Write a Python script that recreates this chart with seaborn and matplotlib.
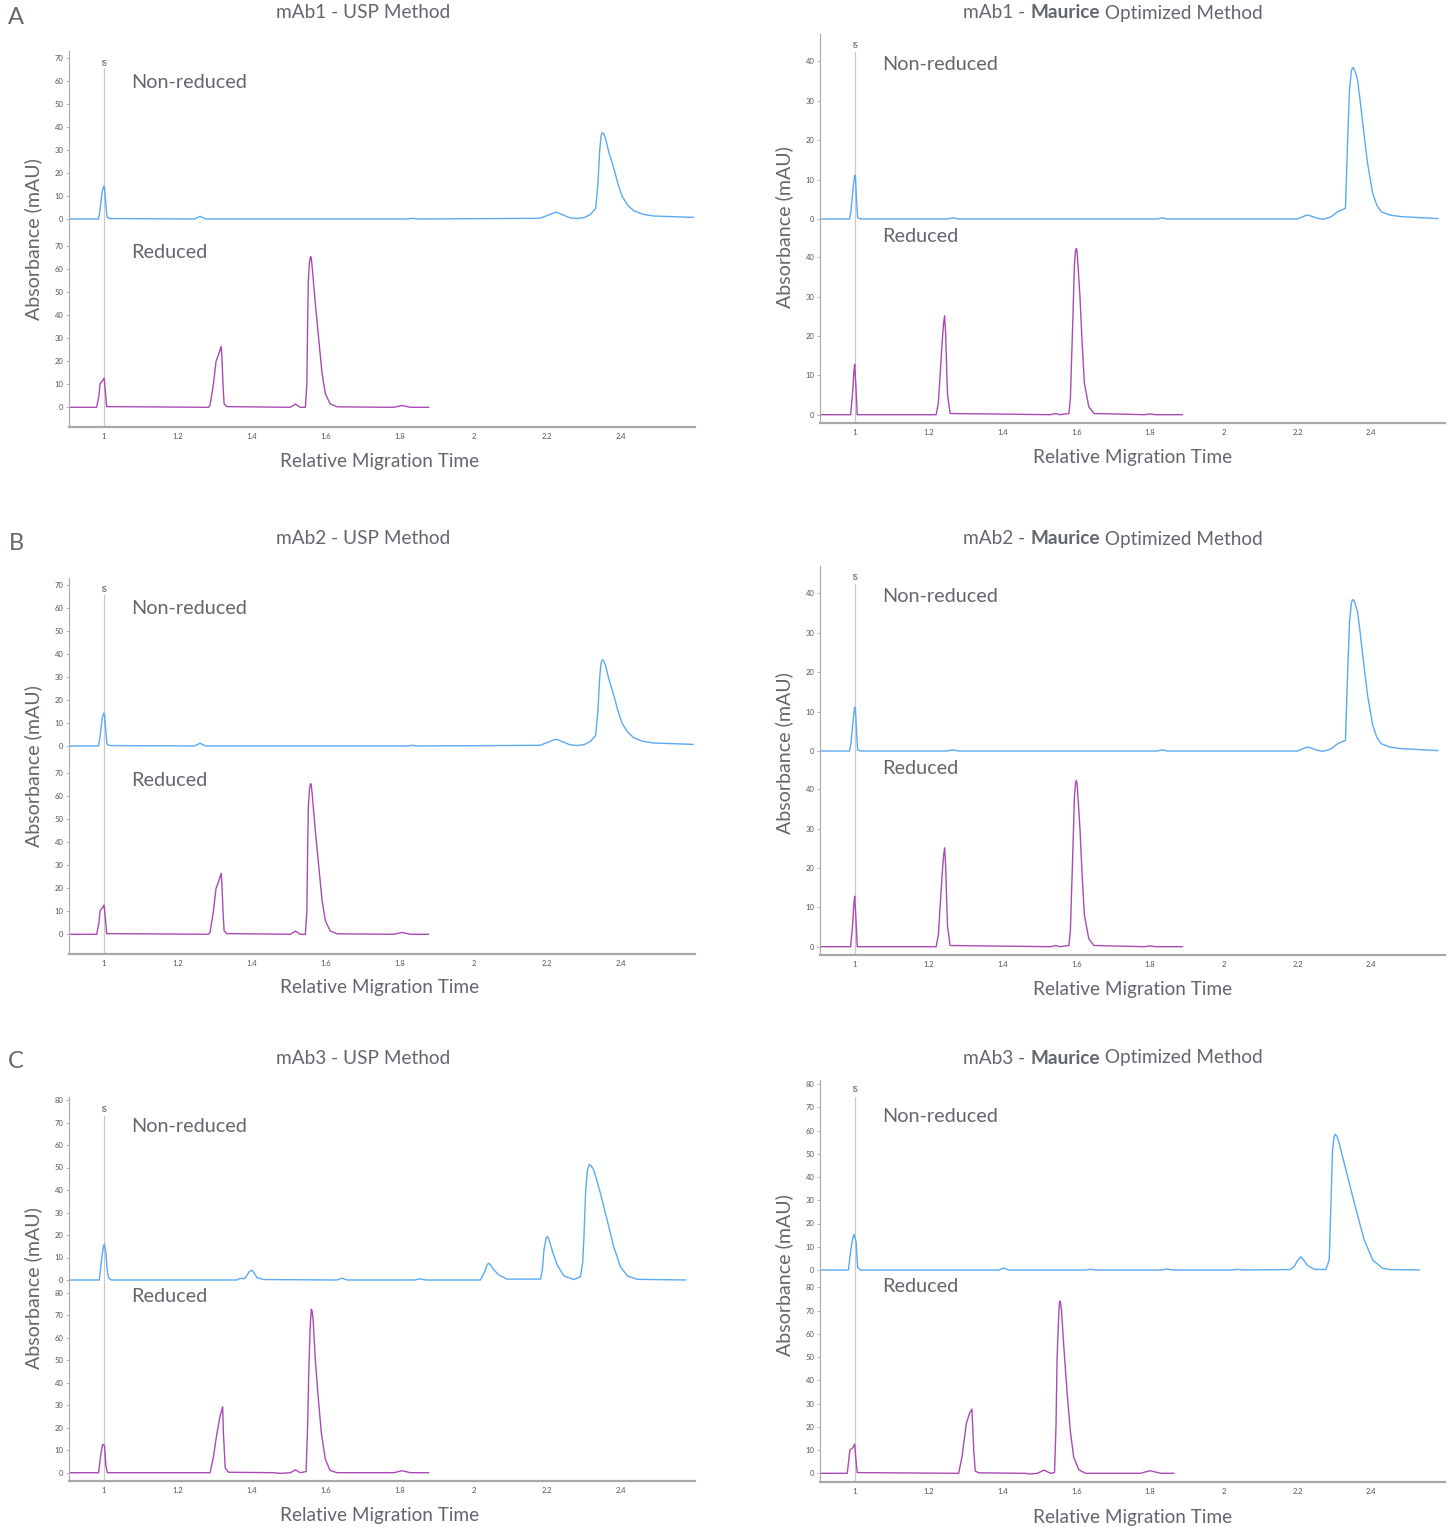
import numpy as np
import pandas as pd
import seaborn as sns
import matplotlib.pyplot as plt

# ---- trace data (relative migration time, mAU) ----
MAB1_USP_NR_X = [0.905, 0.985, 0.989, 0.995, 0.999, 1.001, 1.004, 1.008, 1.015, 1.245, 1.26, 1.275, 1.82, 1.835,
                 1.85, 2.18, 2.205, 2.218, 2.224, 2.232, 2.245, 2.262, 2.281, 2.300, 2.317, 2.331, 2.337, 2.342,
                 2.346, 2.349, 2.352, 2.357, 2.366, 2.379, 2.391, 2.403, 2.418, 2.434, 2.46, 2.488, 2.596]
MAB1_USP_NR_Y = [0, 0, 4, 12, 14.3, 14.0, 8, 0.8, 0.2, 0, 1.2, 0, 0, 0.3,
                 0, 0.3, 1.8, 2.7, 2.9, 2.5, 1.6, 0.5, 0.2, 0.6, 2.0, 4.6, 15, 30,
                 36.5, 37.5, 37.2, 35.5, 29.5, 22.7, 15.5, 9.7, 6.0, 3.6, 2.0, 1.3, 0.7]
MAB1_USP_R_X = [0.905, 0.980, 0.986, 0.989, 0.994, 1.000, 1.004, 1.007, 1.283, 1.287, 1.296, 1.303, 1.310, 1.317,
                1.319, 1.322, 1.325, 1.332, 1.504, 1.518, 1.531, 1.545, 1.549, 1.551, 1.553, 1.556, 1.559, 1.561,
                1.564, 1.572, 1.581, 1.590, 1.599, 1.612, 1.631, 1.784, 1.807, 1.829, 1.879]
MAB1_USP_R_Y = [0, 0, 5, 10.2, 11.2, 12.7, 6, 0.3, 0, 1, 10, 19.9, 23, 26.5,
                22, 10, 1.5, 0.3, 0, 1.4, 0, 0, 10, 35, 55, 63, 65.5, 65.0,
                60, 45, 30, 15, 6, 1.5, 0.2, 0, 0.8, 0, 0]
MAB1_MAU_NR_X = [0.905, 0.985, 0.989, 0.995, 0.999, 1.001, 1.004, 1.007, 1.015, 1.25, 1.265, 1.28, 1.82, 1.833,
                 1.846, 2.20, 2.220, 2.227, 2.235, 2.25, 2.268, 2.29, 2.309, 2.330, 2.336, 2.341, 2.346, 2.349,
                 2.352, 2.356, 2.363, 2.370, 2.377, 2.39, 2.404, 2.415, 2.427, 2.45, 2.481, 2.581]
MAB1_MAU_NR_Y = [0, 0, 2, 8, 11.1, 10.8, 5, 0.3, 0, 0, 0.3, 0, 0, 0.3,
                 0, 0, 0.8, 1.0, 0.8, 0.3, -0.1, 0.5, 1.85, 2.7, 20, 32.7, 37.5, 38.4,
                 38.3, 37.5, 35.2, 30, 24.2, 14.1, 6.5, 3.5, 1.85, 1.0, 0.6, 0.1]
MAB1_MAU_R_X = [0.905, 0.988, 0.993, 0.997, 0.999, 1.002, 1.006, 1.220, 1.226, 1.231, 1.236, 1.240, 1.243, 1.246,
                1.249, 1.251, 1.258, 1.530, 1.543, 1.556, 1.580, 1.584, 1.586, 1.591, 1.595, 1.598, 1.600, 1.602,
                1.604, 1.610, 1.616, 1.622, 1.634, 1.648, 1.785, 1.80, 1.815, 1.888]
MAB1_MAU_R_Y = [0, 0, 5, 11, 12.8, 8, 0, 0, 3, 10.5, 18, 23, 25.1, 20,
                10, 5, 0.3, 0, 0.3, 0, 0.3, 4, 10.1, 25, 38, 41.5, 42.2, 41.5,
                39, 30, 18, 8, 2, 0.3, 0, 0.2, 0, 0]

# mAb2 traces are indistinguishable from mAb1 in the figure
MAB2_USP_NR_X, MAB2_USP_NR_Y = list(MAB1_USP_NR_X), list(MAB1_USP_NR_Y)
MAB2_USP_R_X, MAB2_USP_R_Y = list(MAB1_USP_R_X), list(MAB1_USP_R_Y)
MAB2_MAU_NR_X, MAB2_MAU_NR_Y = list(MAB1_MAU_NR_X), list(MAB1_MAU_NR_Y)
MAB2_MAU_R_X, MAB2_MAU_R_Y = list(MAB1_MAU_R_X), list(MAB1_MAU_R_Y)

MAB3_USP_NR_X = [0.905, 0.987, 0.994, 0.998, 1.001, 1.005, 1.008, 1.012, 1.02, 1.36, 1.369, 1.378, 1.385, 1.392,
                 1.40, 1.407, 1.414, 1.432, 1.63, 1.644, 1.658, 1.84, 1.856, 1.872, 2.019, 2.03, 2.037, 2.041,
                 2.046, 2.055, 2.069, 2.091, 2.182, 2.187, 2.191, 2.197, 2.2, 2.204, 2.213, 2.227, 2.245, 2.272,
                 2.29, 2.296, 2.299, 2.304, 2.309, 2.314, 2.320, 2.326, 2.344, 2.362, 2.380, 2.398, 2.417, 2.444,
                 2.575]
MAB3_USP_NR_Y = [0, 0, 10, 15, 15.9, 12, 5, 1, 0, 0, 0.8, 0.5, 1.5, 3.5,
                 4.4, 3, 1, 0.2, 0, 0.8, 0, 0, 0.5, 0, 0, 3.5, 6.8, 7.4,
                 6.8, 4.6, 2.2, 0.4, 0.4, 5, 13.3, 18.8, 19.3, 18.2, 13.3, 6.7, 1.8, 0.2,
                 1.5, 8, 17.8, 40, 49, 51.4, 50.5, 48.9, 38.5, 26.7, 14.8, 5.9, 1.8, 0.3,
                 0]
MAB3_USP_R_X = [0.905, 0.985, 0.991, 0.996, 1.001, 1.005, 1.009, 1.287, 1.296, 1.305, 1.314, 1.321, 1.323, 1.328,
                1.337, 1.46, 1.477, 1.505, 1.518, 1.531, 1.547, 1.551, 1.554, 1.558, 1.561, 1.563, 1.566, 1.572,
                1.579, 1.588, 1.599, 1.612, 1.631, 1.785, 1.807, 1.829, 1.879]
MAB3_USP_R_Y = [0, 0, 8, 12.6, 12, 3, 0, 0, 7, 17, 25, 29.3, 18, 2,
                0.2, 0, -0.3, 0, 1.3, 0, 0.5, 20, 43, 65, 72.6, 72.0, 68, 50,
                35, 18, 6, 1, 0, 0, 0.9, 0, 0]
MAB3_MAU_NR_X = [0.905, 0.982, 0.988, 0.993, 0.997, 1.003, 1.007, 1.015, 1.39, 1.403, 1.416, 1.625, 1.639, 1.653,
                 1.83, 1.847, 1.864, 2.02, 2.037, 2.054, 2.18, 2.191, 2.200, 2.209, 2.218, 2.227, 2.245, 2.277,
                 2.286, 2.291, 2.295, 2.299, 2.302, 2.307, 2.313, 2.336, 2.359, 2.381, 2.404, 2.431, 2.45, 2.531]
MAB3_MAU_NR_Y = [0, 0, 8, 13, 15.4, 12, 1, 0, 0, 0.8, 0, 0, 0.3, 0,
                 0, 0.4, 0, 0, 0.3, 0, 0.2, 1.5, 4, 5.7, 4, 2, 0.3, 0.2,
                 4.3, 30, 51.6, 57, 58.4, 57.5, 54.5, 40.1, 25.8, 12.9, 4.3, 0.7, 0.2, 0]
MAB3_MAU_R_X = [0.905, 0.979, 0.986, 0.994, 0.999, 1.003, 1.006, 1.281, 1.290, 1.302, 1.311, 1.317, 1.322, 1.326,
                1.335, 1.46, 1.476, 1.495, 1.512, 1.530, 1.541, 1.545, 1.548, 1.553, 1.555, 1.557, 1.560, 1.566,
                1.575, 1.584, 1.593, 1.607, 1.625, 1.774, 1.80, 1.829, 1.865]
MAB3_MAU_R_Y = [0, 0, 10, 11, 12.6, 5, 0.3, 0, 7, 21.5, 26, 27.6, 10, 1,
                0.2, 0, -0.3, 0, 1.4, 0, 0.3, 20, 50, 70, 74.1, 73.5, 70, 55,
                35, 18, 7, 1.5, 0, 0, 1.1, 0, 0]

ROW_LETTERS = ['A', 'B', 'C']
ANTIBODIES = ['mAb1', 'mAb2', 'mAb3']
X_TICKS = [1, 1.2, 1.4, 1.6, 1.8, 2, 2.2, 2.4]
Y_TICKS = {'USP': [[0, 10, 20, 30, 40, 50, 60, 70], [0, 10, 20, 30, 40, 50, 60, 70],
                   [0, 10, 20, 30, 40, 50, 60, 70, 80]],
           'MAU': [[0, 10, 20, 30, 40], [0, 10, 20, 30, 40],
                   [0, 10, 20, 30, 40, 50, 60, 70, 80]]}

TRACES = {
    ('mAb1', 'USP'): (MAB1_USP_NR_X, MAB1_USP_NR_Y, MAB1_USP_R_X, MAB1_USP_R_Y),
    ('mAb1', 'MAU'): (MAB1_MAU_NR_X, MAB1_MAU_NR_Y, MAB1_MAU_R_X, MAB1_MAU_R_Y),
    ('mAb2', 'USP'): (MAB2_USP_NR_X, MAB2_USP_NR_Y, MAB2_USP_R_X, MAB2_USP_R_Y),
    ('mAb2', 'MAU'): (MAB2_MAU_NR_X, MAB2_MAU_NR_Y, MAB2_MAU_R_X, MAB2_MAU_R_Y),
    ('mAb3', 'USP'): (MAB3_USP_NR_X, MAB3_USP_NR_Y, MAB3_USP_R_X, MAB3_USP_R_Y),
    ('mAb3', 'MAU'): (MAB3_MAU_NR_X, MAB3_MAU_NR_Y, MAB3_MAU_R_X, MAB3_MAU_R_Y),
}

# ---- layout in pixels (figure is 1453 x 1527) ----
W, H = 1453, 1527
# x0, x1, top, mid, bottom, upper zero px, lower zero px, px per mAU, IS label px, IS line top px, NR label px, R label px
LAYOUT = {
    ('mAb1', 'USP'): (69, 695, 51, 237, 427, 219, 407.3, 2.30, 63, 68, 82, 253),
    ('mAb1', 'MAU'): (820, 1445, 34, 227, 423, 219, 414.7, 3.94, 45, 52, 64, 236),
    ('mAb2', 'USP'): (69, 695, 578, 764, 954, 746, 934.3, 2.30, 590, 595, 609, 780),
    ('mAb2', 'MAU'): (820, 1445, 566, 759, 955, 751, 946.7, 3.94, 577, 584, 596, 768),
    ('mAb3', 'USP'): (69, 695, 1097, 1286, 1481, 1280, 1472.7, 2.25, 1110, 1116, 1126, 1297),
    ('mAb3', 'MAU'): (820, 1445, 1080, 1280, 1482, 1270, 1473.3, 2.325, 1089, 1097, 1116, 1287),
}
TITLE_Y = [13, 539, 1058]
LETTER_Y = [18, 544, 1061]
XLABEL_Y = {'USP': [461, 988, 1516], 'MAU': [457, 989, 1517]}
YLABEL_Y = {'USP': [239, 766, 1288], 'MAU': [227, 753, 1275]}

BLUE = '#5aaaf4'
PURPLE = '#a94ab5'
TEXT = '#62666d'
SPINE = '#a8a8a8'
ISGRAY = '#c9c9c9'
XMIN, XMAX = 0.905, 2.60
FS = 13.7

sns.set_style("white")
plt.rcParams['font.family'] = ['Lato', 'DejaVu Sans']

fig = plt.figure(figsize=(W / 100, H / 100), dpi=100)


def fx(px):
    return px / W


def fy(py):
    return 1 - py / H


def style_axis(ax, ticks):
    ax.set_xlim(XMIN, XMAX)
    ax.set_yticks(ticks)
    ax.set_yticklabels([str(t) for t in ticks])
    ax.tick_params(axis='y', labelsize=5.5, labelcolor='#555555', length=2, width=0.6,
                   color=SPINE, pad=2, left=True)
    for s in ['top', 'right']:
        ax.spines[s].set_visible(False)
    ax.spines['left'].set_color(SPINE)
    ax.spines['left'].set_linewidth(0.8)
    ax.set_xlabel('')
    ax.set_ylabel('')
    ax.set_facecolor('none')


for r, mab in enumerate(ANTIBODIES):
    for method in ['USP', 'MAU']:
        x0, x1, top, mid, bot, z_up, z_lo, k, is_lbl, is_top, nr_lbl, r_lbl = LAYOUT[(mab, method)]
        nr_x, nr_y, rd_x, rd_y = TRACES[(mab, method)]
        ticks = Y_TICKS[method][r]

        ax_up = fig.add_axes([fx(x0), fy(mid), fx(x1 - x0), (mid - top) / H])
        ax_lo = fig.add_axes([fx(x0), fy(bot), fx(x1 - x0), (bot - mid) / H])

        up_lim = ((z_up - mid) / k, (z_up - top) / k)
        lo_lim = ((z_lo - bot) / k, (z_lo - mid) / k)

        df_nr = pd.DataFrame({'t': nr_x, 'a': nr_y})
        df_rd = pd.DataFrame({'t': rd_x, 'a': rd_y})
        sns.lineplot(data=df_nr, x='t', y='a', ax=ax_up, color=BLUE, lw=1.0,
                     sort=False, estimator=None)
        sns.lineplot(data=df_rd, x='t', y='a', ax=ax_lo, color=PURPLE, lw=1.0,
                     sort=False, estimator=None)

        ax_up.set_ylim(*up_lim)
        ax_lo.set_ylim(*lo_lim)
        style_axis(ax_up, ticks)
        style_axis(ax_lo, ticks)

        ax_up.spines['bottom'].set_visible(False)
        ax_up.set_xticks([])
        ax_lo.spines['bottom'].set_color(SPINE)
        ax_lo.spines['bottom'].set_linewidth(1.6)
        ax_lo.set_xticks(X_TICKS)
        ax_lo.set_xticklabels(['%g' % t for t in X_TICKS])
        ax_lo.tick_params(axis='x', labelsize=5.5, labelcolor='#555555', length=0, pad=4)

        # internal standard marker
        is_frac = ((z_up - is_top) / k - up_lim[0]) / (up_lim[1] - up_lim[0])
        ax_up.axvline(1.0, ymin=0, ymax=is_frac, color=ISGRAY, lw=0.9, zorder=0)
        ax_lo.axvline(1.0, color=ISGRAY, lw=0.9, zorder=0)
        x_is = x0 + (1.0 - XMIN) / (XMAX - XMIN) * (x1 - x0)
        fig.text(fx(x_is), fy(is_lbl), 'IS', fontsize=5, color='#444444',
                 ha='center', va='center')

        # trace labels
        fig.text(fx(x0 + 62), fy(nr_lbl), 'Non-reduced', fontsize=FS + 0.6, color=TEXT,
                 ha='left', va='center')
        fig.text(fx(x0 + 62), fy(r_lbl), 'Reduced', fontsize=FS + 0.6, color=TEXT,
                 ha='left', va='center')

        # axis labels
        cx = (x0 + x1) / 2 + (-2 if method == 'USP' else 0)
        fig.text(fx(cx), fy(XLABEL_Y[method][r]), 'Relative Migration Time', fontsize=FS,
                 color=TEXT, ha='center', va='center')
        fig.text(fx(x0 - 36), fy(YLABEL_Y[method][r]), 'Absorbance (mAU)', fontsize=FS + 0.4,
                 color=TEXT, ha='center', va='center', rotation=90)

    # row letter
    fig.text(fx(16), fy(LETTER_Y[r]), ROW_LETTERS[r], fontsize=17, color=TEXT,
             ha='center', va='center')

    # titles
    fig.text(fx(363), fy(TITLE_Y[r]), f'{mab} - USP Method', fontsize=FS, color=TEXT,
             ha='center', va='center')
    renderer = fig.canvas.get_renderer()
    parts = [(f'{mab} - ', 'normal'), ('Maurice', 'bold'), (' Optimized Method', 'normal')]
    pieces = [fig.text(0, fy(TITLE_Y[r]), s, fontsize=FS, color=TEXT, fontweight=w,
                       ha='left', va='center') for s, w in parts]
    widths = [p.get_window_extent(renderer).width for p in pieces]
    xpos = 1113 - sum(widths) / 2
    for p, wd in zip(pieces, widths):
        p.set_x(fx(xpos))
        xpos += wd

fig.savefig('out.png', dpi=100, facecolor='white')
